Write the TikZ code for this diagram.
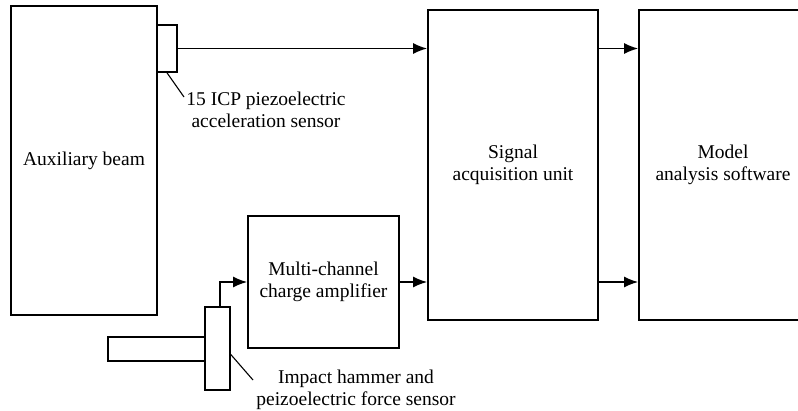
\documentclass[tikz,border=0pt]{standalone}
\usepackage{fontspec}
\setmainfont{Liberation Serif}
\usetikzlibrary{positioning,arrows.meta,calc}

\begin{document}
\begin{tikzpicture}[x=1pt,y=-1pt,
  blk/.style={draw,line width=1.6pt,inner sep=0pt,align=center,font=\fontsize{19.5}{22}\selectfont},
  part/.style={draw,line width=1.6pt,inner sep=0pt},
  lbl/.style={align=center,inner sep=0pt,font=\fontsize{19.5}{22}\selectfont},
  sig/.style={line width=1.7pt,-{Latex[length=14pt,width=11pt]}}]
\useasboundingbox (0,0) rectangle (798,410);
\clip (0,0) rectangle (798,410);
% boxes (pixel coordinates, y down)
\node[blk,minimum width=146,minimum height=309] (beam) at (84,160.5) {Auxiliary beam};
\node[part,minimum width=20,minimum height=47] (accel) at (167,48.5) {};
\node[blk,minimum width=170,minimum height=310] (signal) at (513,165) {Signal\\acquisition unit};
\node[blk,minimum width=168,minimum height=310] (model) at (723,165) {Model\\analysis software};
\node[blk,minimum width=151,minimum height=132] (amp) at (323.5,282) {Multi-channel\\charge amplifier};
\node[part,minimum width=25,minimum height=83] (hammer) at (217.5,348.5) {};
\node[part,minimum width=97,minimum height=24] (handle) at (156.5,349) {};
% labels and leader lines
\node[lbl] (acclabel) at (266,110) {15 ICP piezoelectric\\acceleration sensor};
\node[lbl] (hamlabel) at (356,390) {Impact hammer and\\peizoelectric force sensor};
\coordinate (acctip) at (184,97);
\coordinate (hamtip) at (253,380);
\draw[line width=1.1pt] (accel.south) -- (acctip);
\draw[line width=1.1pt] ($(hammer.east)+(0,6)$) -- (hamtip);
% signal paths
\coordinate (hamout) at ($(hammer.north)+(2.5,0)$);
\draw[sig] (accel.east) -- (accel.east -| signal.west);
\draw[sig] (hamout) |- (amp.west);
\draw[sig] (amp.east) -- (amp.east -| signal.west);
\draw[sig] (accel.east -| signal.east) -- (accel.east -| model.west);
\draw[sig] (amp.east -| signal.east) -- (amp.east -| model.west);
\end{tikzpicture}
\end{document}
